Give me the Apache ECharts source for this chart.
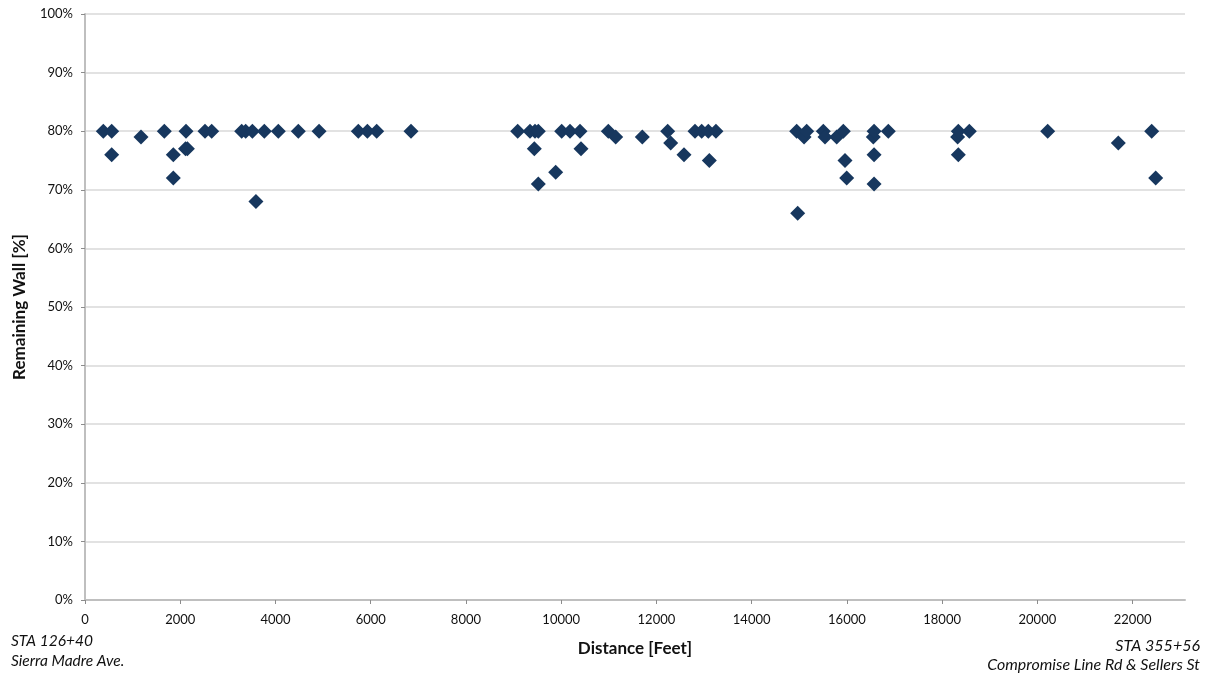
<!DOCTYPE html>
<html>
<head>
<meta charset="utf-8">
<script src="https://cdn.jsdelivr.net/npm/echarts@6/dist/echarts.min.js"></script>
<style>html,body{margin:0;padding:0;background:#fff;}#chart{width:1206px;height:681px;}</style>
</head>
<body>
<div id="chart"></div>
<script>
// Distance [Feet]
const distance = [385, 560, 560, 1176, 1666, 1855, 1855, 2110, 2121, 2150, 2520, 2660, 3290, 3375, 3515, 3590, 3766, 4060, 4480, 4915, 5740, 5930, 6125, 6846,
  9086, 9345, 9436, 9450, 9520, 9520, 9884, 10010, 10185, 10395, 10416, 10990, 11145, 11704, 12236, 12300, 12579, 12810, 12950, 13090, 13110, 13250,
  14945, 14966, 15100, 15155, 15504, 15540, 15785, 15925, 15960, 15995, 16555, 16570, 16570, 16570, 16870, 18325, 18340, 18340, 18570, 20216, 21700, 22400, 22484];
// Remaining Wall [%]
const wall = [80, 80, 76, 79, 80, 76, 72, 77, 80, 77, 80, 80, 80, 80, 80, 68, 80, 80, 80, 80, 80, 80, 80, 80,
  80, 80, 77, 80, 80, 71, 73, 80, 80, 80, 77, 80, 79, 79, 80, 78, 76, 80, 80, 80, 75, 80,
  80, 66, 79, 80, 80, 79, 79, 80, 75, 72, 79, 80, 76, 71, 80, 79, 80, 76, 80, 80, 78, 80, 72];
const xTicks = [0, 2000, 4000, 6000, 8000, 10000, 12000, 14000, 16000, 18000, 20000, 22000];
const yTicks = [0, 10, 20, 30, 40, 50, 60, 70, 80, 90, 100];
const xTitle = 'Distance [Feet]';
const yTitle = 'Remaining Wall [%]';
const startNote = ['STA 126+40', 'Sierra Madre Ave.'];
const endNote = ['STA 355+56', 'Compromise Line Rd & Sellers St'];

const points = distance.map((d, i) => [d, wall[i]]);
const font = 'Lato, "Open Sans", sans-serif';
const chart = echarts.init(document.getElementById('chart'), null, {renderer: 'canvas'});
chart.setOption({
  animation: false,
  backgroundColor: '#ffffff',
  textStyle: {fontFamily: font},
  grid: {left: 85, right: 21, top: 14, bottom: 81, containLabel: false},
  xAxis: {
    type: 'value', min: 0, max: 23100, interval: 2000,
    name: xTitle, nameLocation: 'middle', nameGap: 40,
    nameTextStyle: {fontFamily: font, fontWeight: 'bold', fontSize: 17, color: '#111'},
    axisLine: {show: true, lineStyle: {color: '#bfbfbf', width: 2}},
    axisTick: {show: true, length: 4, lineStyle: {color: '#8c8c8c'}, customValues: xTicks},
    axisLabel: {customValues: xTicks, formatter: v => String(v), fontFamily: font, fontSize: 13, color: '#111', margin: 13},
    splitLine: {show: false}
  },
  yAxis: {
    type: 'value', min: 0, max: 100, interval: 10,
    name: yTitle, nameLocation: 'middle', nameGap: 57, nameRotate: 90,
    nameTextStyle: {fontFamily: font, fontWeight: 'bold', fontSize: 17, color: '#111'},
    axisLine: {show: true, lineStyle: {color: '#bfbfbf', width: 2}},
    axisTick: {show: true, length: 4, lineStyle: {color: '#8c8c8c'}},
    axisLabel: {customValues: yTicks, formatter: '{value}%', fontFamily: font, fontSize: 13, color: '#111', margin: 12},
    splitLine: {show: true, lineStyle: {color: '#d9d9d9', width: 1.5}}
  },
  series: [{
    type: 'scatter',
    data: points,
    symbol: 'diamond',
    symbolSize: [15, 15],
    itemStyle: {color: '#17375e', opacity: 1}
  }],
  graphic: [
    {type: 'text', left: 11, top: 633, style: {text: startNote[0], font: 'italic 15.5px ' + font, fill: '#111'}},
    {type: 'text', left: 11, top: 653, style: {text: startNote[1], font: 'italic 15.5px ' + font, fill: '#111'}},
    {type: 'text', right: 6, top: 638, style: {text: endNote[0], font: 'italic 16px ' + font, fill: '#111'}},
    {type: 'text', right: 6, top: 657, style: {text: endNote[1], font: 'italic 16px ' + font, fill: '#111'}}
  ]
});
</script>
</body>
</html>
